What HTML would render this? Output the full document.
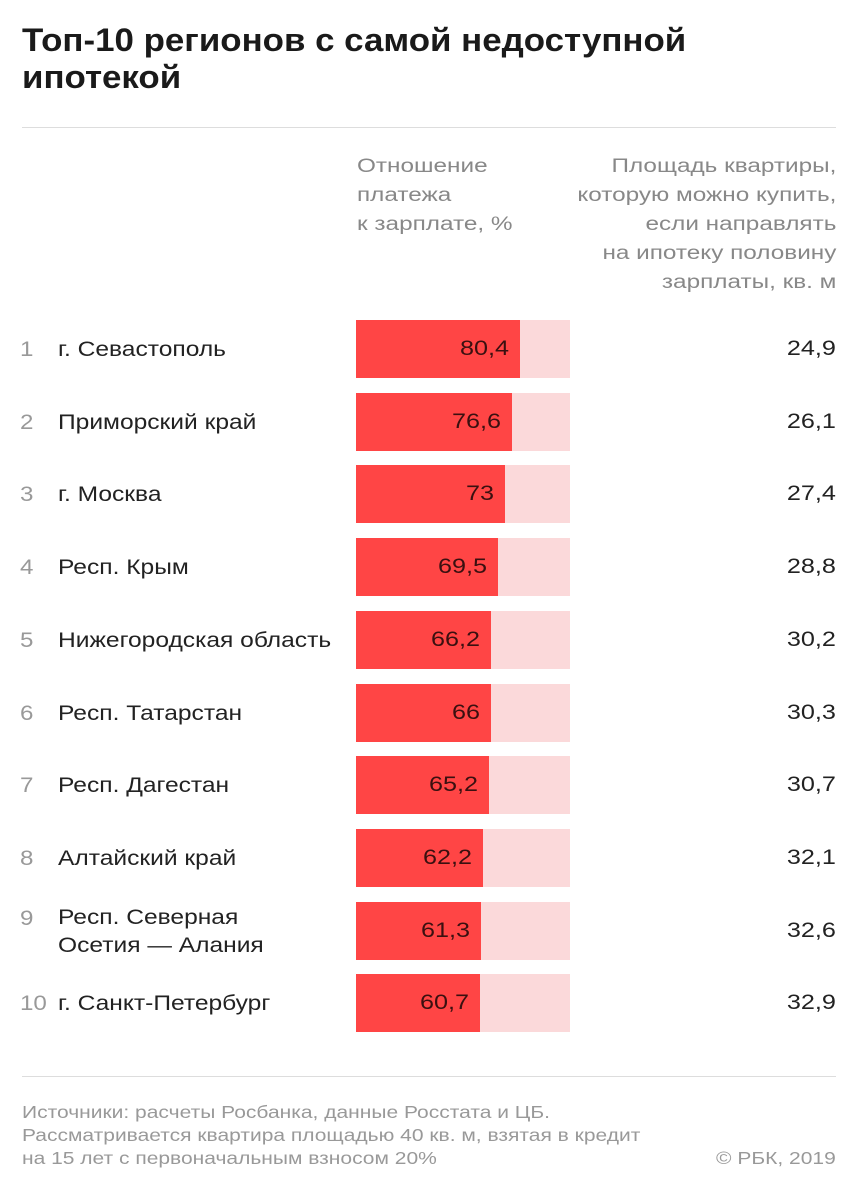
<!DOCTYPE html>
<html><head><meta charset="utf-8"><style>
body{margin:0;width:858px;height:1200px;background:#fff;font-family:"Liberation Sans","DejaVu Sans",sans-serif;position:relative;overflow:hidden;color:#222}
h1{position:absolute;left:22px;top:22px;margin:0;font-size:32px;line-height:37px;font-weight:bold;color:#1a1a1a;transform:scaleX(1.09);transform-origin:left top;white-space:nowrap}
.hr{position:absolute;left:22px;width:814px;height:1px;background:#ddd}
.hdr{position:absolute;font-size:19px;line-height:29px;color:#888;white-space:nowrap;transform:scaleX(1.28)}
.num{position:absolute;left:20px;font-size:21px;color:#999;transform:scaleX(1.15);transform-origin:left top}
.lbl{position:absolute;left:58px;font-size:21px;line-height:28px;color:#222;white-space:nowrap;transform:scaleX(1.17);transform-origin:left top}
.bg{position:absolute;left:356px;width:214px;height:58px;background:#fbd9da}
.bar{position:absolute;left:356px;height:58px;background:#ff4545}
.val{position:absolute;font-size:21px;color:#3a1010;text-align:right;width:80px;transform:scaleX(1.2);transform-origin:right top}
.r{position:absolute;right:22px;font-size:21px;color:#222;transform:scaleX(1.2);transform-origin:right top}
.foot{position:absolute;left:22px;top:1101px;font-size:17.5px;line-height:23px;color:#999;white-space:nowrap;transform:scaleX(1.2);transform-origin:left top}
</style></head><body>
<h1>Топ-10 регионов с самой недоступной<br>ипотекой</h1>
<div class="hr" style="top:127px"></div>
<div class="hdr" style="left:357px;top:152px;transform-origin:left top">Отношение<br>платежа<br>к зарплате, %</div>
<div class="hdr" style="right:22px;top:152px;text-align:right;transform-origin:right top">Площадь квартиры,<br>которую можно купить,<br>если направлять<br>на ипотеку половину<br>зарплаты, кв. м</div>
<div id="rows"></div>
<div class="hr" style="top:1076px"></div>
<div class="foot">Источники: расчеты Росбанка, данные Росстата и ЦБ.<br>Рассматривается квартира площадью 40 кв. м, взятая в кредит<br>на 15 лет с первоначальным взносом 20%</div>
<div class="foot" style="left:auto;right:22px;top:1147px;transform-origin:right top">© РБК, 2019</div>
<script>
const regions=["г. Севастополь","Приморский край","г. Москва","Респ. Крым","Нижегородская область","Респ. Татарстан","Респ. Дагестан","Алтайский край","Респ. Северная<br>Осетия — Алания","г. Санкт-Петербург"];
const ratios=[80.4,76.6,73,69.5,66.2,66,65.2,62.2,61.3,60.7];
const areas=[24.9,26.1,27.4,28.8,30.2,30.3,30.7,32.1,32.6,32.9];
const x=v=>v*2.04;
const rowY=i=>320+i*72.7;
const fmt=v=>String(v).replace('.',',');
const root=document.getElementById('rows');
regions.forEach((r,i)=>{
  const y=rowY(i);
  const two=r.includes('<br>');
  const num=document.createElement('div');num.className='num';num.style.top=(two?y+5:y+18)+'px';num.textContent=i+1;
  
  
  const l=document.createElement('div');l.className='lbl';l.style.top=(two?y+2:y+16)+'px';l.innerHTML=r;
  
  
  const bg=document.createElement('div');bg.className='bg';bg.style.top=y+'px';
  
  
  const b=document.createElement('div');b.className='bar';b.style.top=y+'px';b.style.width=x(ratios[i])+'px';
  
  
  const v=document.createElement('div');v.className='val';v.style.top=(y+17)+'px';v.style.left=(356+x(ratios[i])-91)+'px';v.textContent=fmt(ratios[i]);
  
  
  const a=document.createElement('div');a.className='r';a.style.top=(y+17)+'px';a.textContent=fmt(areas[i]);
  
  
  [num,l,bg,b,v,a].forEach(e=>root.appendChild(e));
});
</script>
</body></html>
